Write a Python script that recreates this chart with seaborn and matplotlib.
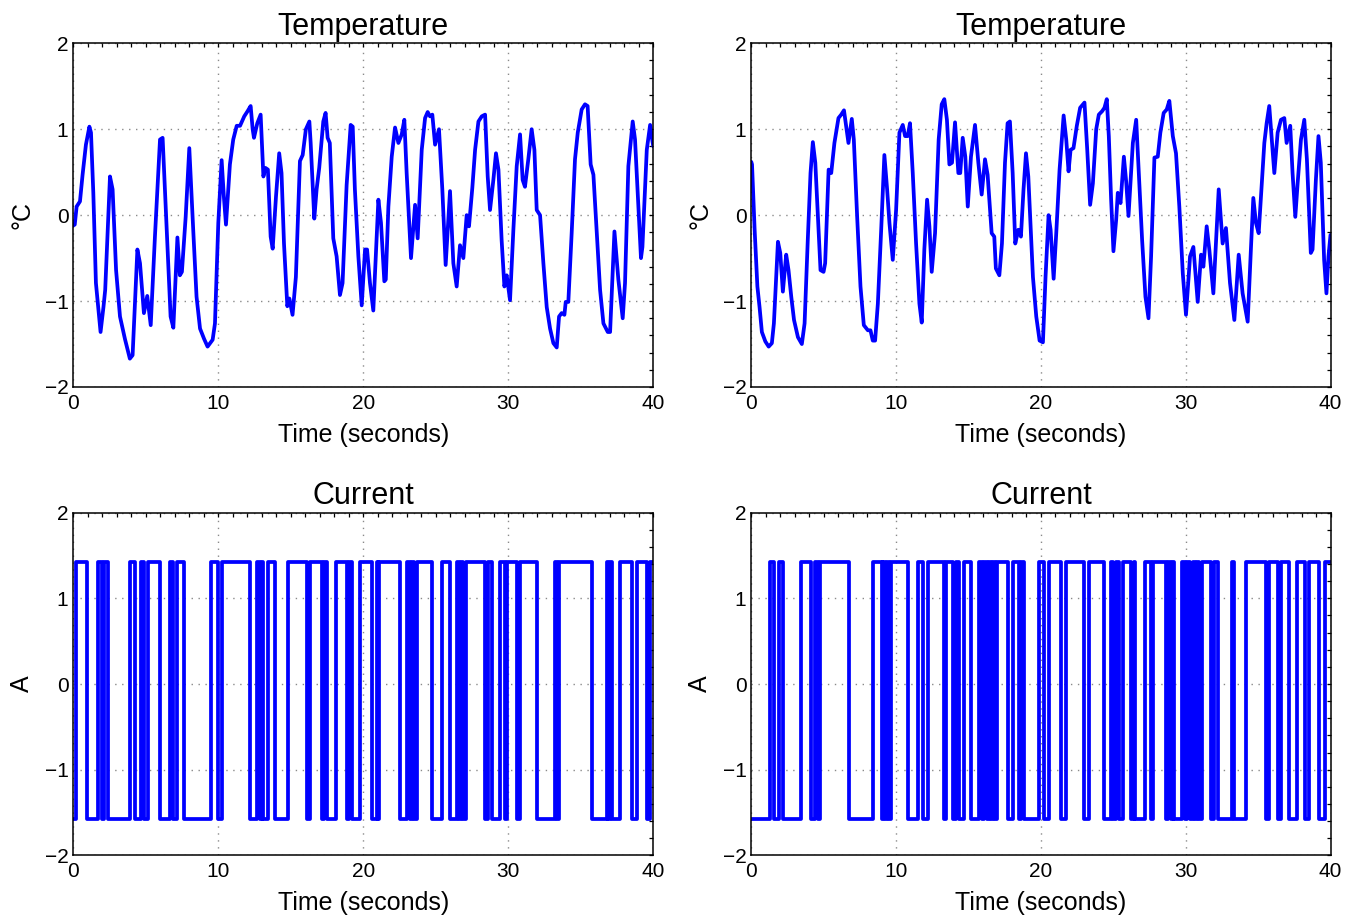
import numpy as np
import matplotlib
matplotlib.use("Agg")
import matplotlib.pyplot as plt
import seaborn as sns
from matplotlib.ticker import MultipleLocator

# ---- temperature traces: time (s) and value (°C) ----
temp_left_t = [0.0, 0.10, 0.23, 0.46, 0.64, 0.87, 1.11, 1.22, 1.38, 1.56, 1.88, 2.08, 2.20, 2.53, 2.71,
               2.95, 3.22, 3.56, 3.90, 4.09, 4.42, 4.60, 4.87, 5.10, 5.34, 5.63, 5.98, 6.16, 6.44, 6.71,
               6.90, 7.18, 7.35, 7.49, 7.75, 8.00, 8.27, 8.50, 8.74, 9.02, 9.26, 9.61, 9.77, 10.00, 10.23,
               10.39, 10.53, 10.80, 11.03, 11.27, 11.50, 11.79, 12.02, 12.23, 12.37, 12.46, 12.69, 12.92,
               13.11, 13.25, 13.42, 13.61, 13.75, 13.98, 14.20, 14.36, 14.53, 14.76, 14.90, 15.12, 15.35,
               15.63, 15.82, 16.04, 16.28, 16.37, 16.62, 16.78, 16.96, 17.24, 17.40, 17.54, 17.69, 17.93,
               18.16, 18.39, 18.57, 18.85, 19.13, 19.27, 19.42,
               19.66, 19.89, 20.12, 20.26, 20.46, 20.69, 21.04, 21.22, 21.45, 21.55, 21.73, 21.96, 22.19,
               22.42, 22.65, 22.83, 22.99, 23.29, 23.57, 23.75, 24.03, 24.26, 24.44, 24.60, 24.76, 24.95,
               25.22, 25.45, 25.68, 25.98, 26.21, 26.44, 26.67, 26.90, 27.13, 27.29, 27.52, 27.71, 27.94,
               28.17, 28.40, 28.58, 28.74, 28.97, 29.15, 29.32, 29.54, 29.73, 29.89, 30.12, 30.35, 30.58,
               30.81, 30.99, 31.15, 31.38, 31.61, 31.80, 31.96, 32.19, 32.42, 32.65, 32.88, 33.11, 33.34,
               33.50, 33.68, 33.87, 33.96, 34.14, 34.37, 34.60, 34.79, 35.06, 35.29, 35.47, 35.68, 35.87,
               36.10, 36.33, 36.56, 36.86, 37.02, 37.32, 37.59, 37.89, 38.05, 38.28, 38.58, 38.74, 39.15,
               39.25, 39.55, 39.78, 39.94, 40.0]
temp_left_v = [-0.12, -0.11, 0.10, 0.16, 0.47, 0.82, 1.03, 0.96, 0.26, -0.79, -1.36, -1.07, -0.87, 0.45, 0.30,
               -0.64, -1.18, -1.44, -1.67, -1.63, -0.40, -0.56, -1.14, -0.94, -1.28, -0.25, 0.88, 0.90, -0.17, -1.18,
               -1.31, -0.26, -0.70, -0.66, -0.02, 0.78, -0.17, -0.95, -1.32, -1.44, -1.53, -1.45, -1.26, -0.09, 0.64,
               0.20, -0.11, 0.59, 0.88, 1.04, 1.04, 1.15, 1.21, 1.27, 1.00, 0.90, 1.07, 1.17,
               0.45, 0.55, 0.53, -0.25, -0.39, 0.22, 0.72, 0.49, -0.33, -1.06, -0.97, -1.16, -0.72,
               0.63, 0.70, 1.00, 1.09, 0.84, -0.04, 0.30, 0.55, 1.09, 1.19, 0.90, 0.84, -0.27,
               -0.48, -0.93, -0.79, 0.35, 1.05, 1.03, 0.30,
               -0.48, -1.05, -0.40, -0.40, -0.79, -1.11, 0.18, -0.09, -0.77, -0.75, 0.10, 0.68, 1.02,
               0.84, 0.94, 1.11, 0.49, -0.50, 0.12, -0.27, 0.76, 1.13, 1.20, 1.15, 1.17, 0.82,
               1.00, 0.30, -0.58, 0.28, -0.56, -0.83, -0.35, -0.50, 0.00, -0.13, 0.32, 0.76, 1.09,
               1.15, 1.17, 0.45, 0.06, 0.41, 0.72, 0.53, -0.29, -0.83, -0.70, -0.99, -0.17, 0.57,
               0.94, 0.41, 0.33, 0.65, 1.00, 0.76, 0.06, 0.00, -0.56, -1.07, -1.32, -1.49, -1.54,
               -1.18, -1.14, -1.16, -1.01, -1.01, -0.21, 0.65, 0.96, 1.23, 1.29, 1.27, 0.59, 0.47,
               -0.21, -0.87, -1.26, -1.36, -1.36, -0.19, -0.75, -1.20, -0.79, 0.57, 1.09, 0.88, -0.50,
               -0.37, 0.76, 1.05, 0.86, 0.80]

temp_right_t = [0.0, 0.05, 0.23, 0.42, 0.57, 0.73, 0.97, 1.20, 1.42, 1.56, 1.84, 2.00, 2.18, 2.41, 2.57,
                2.76, 2.95, 3.22, 3.49, 3.68, 3.90, 4.09, 4.25, 4.42, 4.60, 4.78, 4.99, 5.10, 5.34, 5.52,
                5.74, 6.02, 6.21, 6.40, 6.55, 6.71, 6.94, 7.08, 7.31, 7.54, 7.77, 8.05, 8.23, 8.39, 8.55,
                8.74, 8.97, 9.19, 9.38, 9.54, 9.77, 10.00, 10.23, 10.46, 10.62, 10.80, 10.96, 11.15, 11.38,
                11.61, 11.77, 11.95, 12.14, 12.30, 12.46, 12.69, 12.94, 13.15, 13.33, 13.51, 13.68, 13.86,
                14.07, 14.30, 14.43, 14.60, 14.78, 14.95, 15.17, 15.45, 15.68, 15.91, 16.14, 16.32, 16.60,
                16.78, 16.89, 17.13, 17.31, 17.52, 17.70, 17.86, 18.05, 18.23, 18.44, 18.62, 18.80, 18.97,
                19.13,
                19.45, 19.68, 19.91, 20.14, 20.32, 20.53, 20.67, 20.88, 21.06, 21.29, 21.57, 21.75, 21.91,
                22.05, 22.25, 22.48, 22.71, 23.01, 23.20, 23.40, 23.59, 23.82, 24.00, 24.23, 24.39, 24.55,
                24.69, 24.85, 25.01, 25.20, 25.31, 25.50, 25.73, 25.89, 26.05, 26.35, 26.58, 26.76, 26.99,
                27.22, 27.43, 27.61, 27.84, 28.07, 28.25, 28.48, 28.69, 28.87, 29.11, 29.33, 29.56, 29.80,
                30.02, 30.30, 30.53, 30.83, 31.06, 31.22, 31.45, 31.63, 31.91, 32.28, 32.55, 32.78, 33.06,
                33.36, 33.66, 33.93, 34.28, 34.51, 34.67, 34.85, 35.04, 35.24, 35.43, 35.59, 35.77, 35.96,
                36.12, 36.35, 36.58, 36.81, 36.97, 37.22, 37.38, 37.57, 37.73, 37.96, 38.19, 38.37, 38.64,
                38.76, 38.99, 39.17, 39.33, 39.56, 39.72, 39.86, 40.0]
temp_right_v = [0.62, 0.59, -0.17, -0.83, -1.07, -1.36, -1.47, -1.53, -1.49, -1.26, -0.31, -0.44, -0.89, -0.46, -0.64,
                -0.95, -1.22, -1.42, -1.50, -1.26, -0.29, 0.49, 0.85, 0.61, -0.02, -0.64, -0.66, -0.56, 0.53, 0.49,
                0.84, 1.13, 1.17, 1.22, 1.04, 0.84, 1.12, 0.88, -0.02, -0.83, -1.28, -1.34, -1.34, -1.46, -1.46,
                -1.03, -0.17, 0.70, 0.30, -0.09, -0.52, 0.06, 0.96, 1.05, 0.92, 0.92, 1.07, 0.49, -0.33,
                -1.03, -1.25, -0.40, 0.18, -0.13, -0.66, -0.21, 0.88, 1.29, 1.35, 1.11, 0.59, 0.61,
                1.08, 0.49, 0.49, 0.90, 0.68, 0.10, 0.68, 1.05, 0.61, 0.24, 0.65, 0.47, -0.21,
                -0.25, -0.62, -0.70, -0.33, 0.61, 1.07, 1.09, 0.49, -0.33, -0.17, -0.25, 0.30, 0.72,
                0.45,
                -0.72, -1.18, -1.46, -1.48, -0.72, 0.00, -0.17, -0.74, -0.21, 0.53, 1.16, 0.88, 0.51,
                0.76, 0.78, 1.04, 1.25, 1.31, 0.76, 0.12, 0.37, 1.00, 1.17, 1.21, 1.25, 1.35,
                0.92, 0.18, -0.42, -0.05, 0.26, 0.14, 0.68, 0.39, -0.01, 0.84, 1.11, 0.49, -0.29,
                -0.95, -1.20, -0.48, 0.67, 0.68, 0.96, 1.19, 1.23, 1.33, 0.92, 0.72, 0.10, -0.68,
                -1.16, -0.48, -0.37, -1.01, -0.46, -0.60, -0.13, -0.40, -0.91, 0.30, -0.33, -0.15, -0.79,
                -1.22, -0.46, -0.91, -1.24, -0.37, 0.20, -0.09, -0.21, 0.33, 0.84, 1.07, 1.27, 0.84,
                0.49, 0.96, 1.11, 1.13, 0.84, 1.04, 0.49, -0.02, 0.37, 0.88, 1.11, 0.65, -0.44,
                -0.40, 0.41, 0.92, 0.61, -0.52, -0.91, -0.48, -0.23]

# ---- current: two-level switching signal (A) ----
current_high = 1.42
current_low = -1.58

# switching instants (s); each panel starts at the low level
current_left_switch = [0.18, 0.92, 1.72, 1.95, 2.15, 2.37, 3.91, 4.25, 4.67, 4.90, 5.13, 5.98, 6.67, 6.90,
                       7.13, 7.63, 9.47, 10.00, 10.23, 12.18, 12.64, 12.90, 13.00, 13.11, 13.45, 13.91,
                       14.83, 16.10, 16.33, 17.13, 17.30, 17.48, 18.12, 18.86, 19.00, 19.20, 19.78, 20.58,
                       20.92, 21.04, 21.10, 22.53, 22.99, 23.20, 23.35, 23.50, 23.68, 24.72, 25.41, 25.98,
                       26.44, 26.60, 26.75, 26.90, 27.05, 28.39, 28.60, 28.85, 29.42, 29.77, 29.88, 30.57,
                       30.80, 31.95, 33.22, 33.35, 33.50, 35.74, 36.78, 36.90, 37.00, 37.12, 37.70, 38.50,
                       38.85, 39.54, 39.77]
current_right_switch = [1.31, 1.54, 1.91, 2.18, 3.45, 4.14, 4.37, 4.60, 4.76, 6.78, 8.39, 9.00, 9.12, 9.25,
                        9.38, 9.50, 9.62, 10.80, 11.50, 11.84, 12.18, 13.34, 13.45, 13.91, 14.14, 14.37,
                        14.72, 15.18, 15.75, 15.95, 16.10, 16.25, 16.40, 16.55, 16.70, 16.85, 17.00, 17.71,
                        18.05, 18.50, 18.63, 18.86, 19.89, 20.24, 20.58, 21.39, 21.73, 22.99, 23.34, 24.37,
                        24.83, 24.95, 25.18, 25.41, 25.64, 26.21, 26.44, 26.50, 27.20, 27.60, 27.72, 28.62,
                        28.80, 29.00, 29.10, 29.19, 29.77, 29.95, 30.10, 30.30, 30.50, 30.65, 30.80, 30.95,
                        31.15, 31.72, 31.95, 32.20, 33.22, 33.34, 34.14, 35.52, 35.75, 36.40, 36.60, 37.12,
                        37.70, 38.27, 38.50, 39.19, 39.65]

t_end = 40.0
x_ticks = [0, 10, 20, 30, 40]
y_ticks = [-2, -1, 0, 1, 2]


def step_series(switches):
    times = [0.0] + list(switches) + [t_end]
    levels = [current_low if i % 2 == 0 else current_high for i in range(len(switches) + 1)]
    levels.append(levels[-1])
    return times, levels


sns.set_theme(style="white")
plt.rcParams["font.family"] = ["Liberation Sans", "DejaVu Sans"]
plt.rcParams["axes.unicode_minus"] = True
for key in ("text.color", "axes.labelcolor", "xtick.color", "ytick.color"):
    plt.rcParams[key] = "black"

fig = plt.figure(figsize=(13.51, 9.16), dpi=100)
W, H = 1351, 916


def make_axes(x0, x1, ytop, ybot):
    return fig.add_axes([x0 / W, 1 - ybot / H, (x1 - x0) / W, (ybot - ytop) / H])


ax_tl = make_axes(73.3, 653.3, 43.3, 387.0)
ax_tr = make_axes(751.3, 1330.5, 43.3, 387.0)
ax_bl = make_axes(73.3, 653.3, 512.6, 855.4)
ax_br = make_axes(751.3, 1330.5, 512.6, 855.4)

line_kw = dict(color="#0000ff", linewidth=2.7, estimator=None, sort=False, legend=False)

sns.lineplot(x=temp_left_t, y=temp_left_v, ax=ax_tl, **line_kw)
sns.lineplot(x=temp_right_t, y=temp_right_v, ax=ax_tr, **line_kw)

bl_t, bl_v = step_series(current_left_switch)
br_t, br_v = step_series(current_right_switch)
sns.lineplot(x=bl_t, y=bl_v, ax=ax_bl, drawstyle="steps-post", **line_kw)
sns.lineplot(x=br_t, y=br_v, ax=ax_br, drawstyle="steps-post", **line_kw)

for ax, title, ylab in [(ax_tl, "Temperature", "°C"), (ax_tr, "Temperature", "°C"),
                        (ax_bl, "Current", "A"), (ax_br, "Current", "A")]:
    ax.set_xlim(0, 40)
    ax.set_ylim(-2, 2)
    ax.set_xticks(x_ticks)
    ax.set_yticks(y_ticks)
    ax.set_xticklabels([str(v) for v in x_ticks])
    ax.set_yticklabels([str(v).replace("-", "\u2212") for v in y_ticks])
    ax.xaxis.set_minor_locator(MultipleLocator(1))
    ax.yaxis.set_minor_locator(MultipleLocator(0.2))
    ax.tick_params(which="both", direction="in", top=True, right=True,
                   length=3.2, width=0.9, color="black")
    ax.tick_params(axis="x", which="major", labelsize=15, pad=5)
    ax.tick_params(axis="y", which="major", labelsize=15, pad=3.5)
    ax.grid(True, which="major", color="#8a8a8a", linestyle=(0, (1, 4)), linewidth=1.0)
    ax.set_axisbelow(True)
    for sp in ax.spines.values():
        sp.set_visible(True)
        sp.set_color("black")
        sp.set_linewidth(1.1)
    ax.set_title(title, fontsize=22, pad=6)
    ax.set_xlabel("Time (seconds)", fontsize=18)
    ax.set_ylabel(ylab, fontsize=18)
    ax.xaxis.set_label_coords(0.5, -0.105)
    ax.yaxis.set_label_coords(-0.088, 0.5)
    ax.yaxis.label.set_verticalalignment("center")

fig.savefig("out.png", dpi=100, facecolor="white")
